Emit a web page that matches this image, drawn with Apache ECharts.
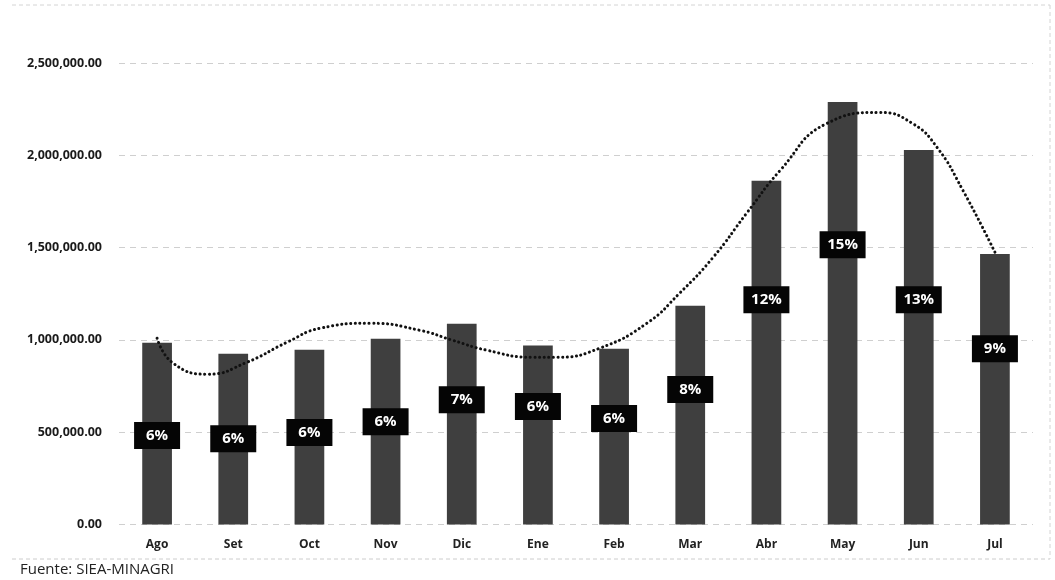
<!DOCTYPE html>
<html>
<head>
<meta charset="utf-8">
<script src="https://cdn.jsdelivr.net/npm/echarts@6/dist/echarts.min.js"></script>
<style>
html,body{margin:0;padding:0;background:#fff;}
#chart{width:1055px;height:580px;}
</style>
</head>
<body>
<div id="chart"></div>
<script>
// Months
var categories = ['Ago','Set','Oct','Nov','Dic','Ene','Feb','Mar','Abr','May','Jun','Jul'];
// Bar values
var values = [985000, 925000, 947000, 1006000, 1088000, 969000, 952000, 1185000, 1862000, 2289000, 2029000, 1466000];
// Percentage labels and the value level where each label box sits
var percents = ['6%','6%','6%','6%','7%','6%','6%','8%','12%','15%','13%','9%'];
var labelLevels = [482000, 465000, 498000, 557000, 676000, 639000, 574000, 731000, 1218000, 1515000, 1218000, 952000];
// Trend line: [category index, value]
var trendX = [0, 0.21, 0.67, 1.18, 1.71, 2.14, 2.80, 3.45, 3.88, 4.33, 4.93, 5.25, 5.81, 6.43, 6.86, 7.30, 7.74, 8.18, 8.79, 9.49, 9.92, 10.24, 10.58, 11.0];
var trendY = [1009000, 874000, 814000, 879000, 988000, 1063000, 1090000, 1052000, 998000, 944000, 906000, 906000, 955000, 1090000, 1253000, 1447000, 1686000, 1918000, 2172000, 2232000, 2172000, 2043000, 1810000, 1475000];
// Y axis ticks
var yMin = 0, yMax = 2500000, yStep = 500000;

var chart = echarts.init(document.getElementById('chart'));
var fmt = function (v) {
  return v.toLocaleString('en-US', {minimumFractionDigits: 2, maximumFractionDigits: 2});
};
chart.setOption({
  animation: false,
  backgroundColor: '#fff',
  grid: {left: 119, right: 22, top: 63, bottom: 55.5, containLabel: false},
  xAxis: [{
    type: 'category',
    data: categories,
    boundaryGap: true,
    axisLine: {show: false},
    axisTick: {show: false},
    axisLabel: {color: '#222', fontWeight: 'bold', fontSize: 12, fontFamily: 'Open Sans', margin: 14}
  }, {
    type: 'value',
    min: -0.5, max: 11.5,
    show: false
  }],
  yAxis: {
    type: 'value',
    min: yMin, max: yMax, interval: yStep,
    axisLine: {show: false},
    axisTick: {show: false},
    axisLabel: {formatter: fmt, color: '#1a1a1a', fontWeight: 'bold', fontSize: 12.5, fontFamily: 'Open Sans', margin: 17},
    splitLine: {lineStyle: {color: '#cfcfcf', type: [6, 5], width: 1}}
  },
  series: [{
    type: 'bar',
    data: values,
    barWidth: '39%',
    itemStyle: {color: '#3f3f3f'},
    z: 2
  }, {
    type: 'line',
    xAxisIndex: 1,
    data: trendX.map(function (x, i) { return [x, trendY[i]]; }),
    smooth: true,
    symbol: 'none',
    lineStyle: {color: '#111', width: 3, type: [0.1, 4.5], cap: 'round'},
    z: 3
  }, {
    type: 'scatter',
    data: labelLevels.map(function (v, i) { return [categories[i], v, percents[i]]; }),
    symbolSize: 1,
    itemStyle: {color: '#000', opacity: 1},
    label: {
      show: true,
      position: 'inside',
      formatter: function (p) { return p.value[2]; },
      backgroundColor: '#050505',
      color: '#fff',
      fontWeight: 'bold',
      fontSize: 15,
      fontFamily: 'Open Sans',
      padding: [5, 7, 4, 7],
      width: 32,
      height: 18,
      lineHeight: 18,
      align: 'center'
    },
    emphasis: {disabled: true},
    z: 5
  }],
  graphic: [{
    type: 'text',
    left: 20, top: 562,
    style: {text: 'Fuente: SIEA-MINAGRI', fontSize: 15, fontFamily: 'Open Sans', fill: '#222'}
  }, {
    type: 'line',
    shape: {x1: 12, y1: 559, x2: 1050, y2: 559},
    style: {stroke: '#cccccc', lineDash: [4, 3], lineWidth: 1}
  }, {
    type: 'line',
    shape: {x1: 1050, y1: 5, x2: 1050, y2: 559},
    style: {stroke: '#d4d4d4', lineDash: [4, 3], lineWidth: 1}
  }, {
    type: 'line',
    shape: {x1: 12, y1: 5, x2: 1050, y2: 5},
    style: {stroke: '#d4d4d4', lineDash: [4, 3], lineWidth: 1}
  }]
});
</script>
</body>
</html>
